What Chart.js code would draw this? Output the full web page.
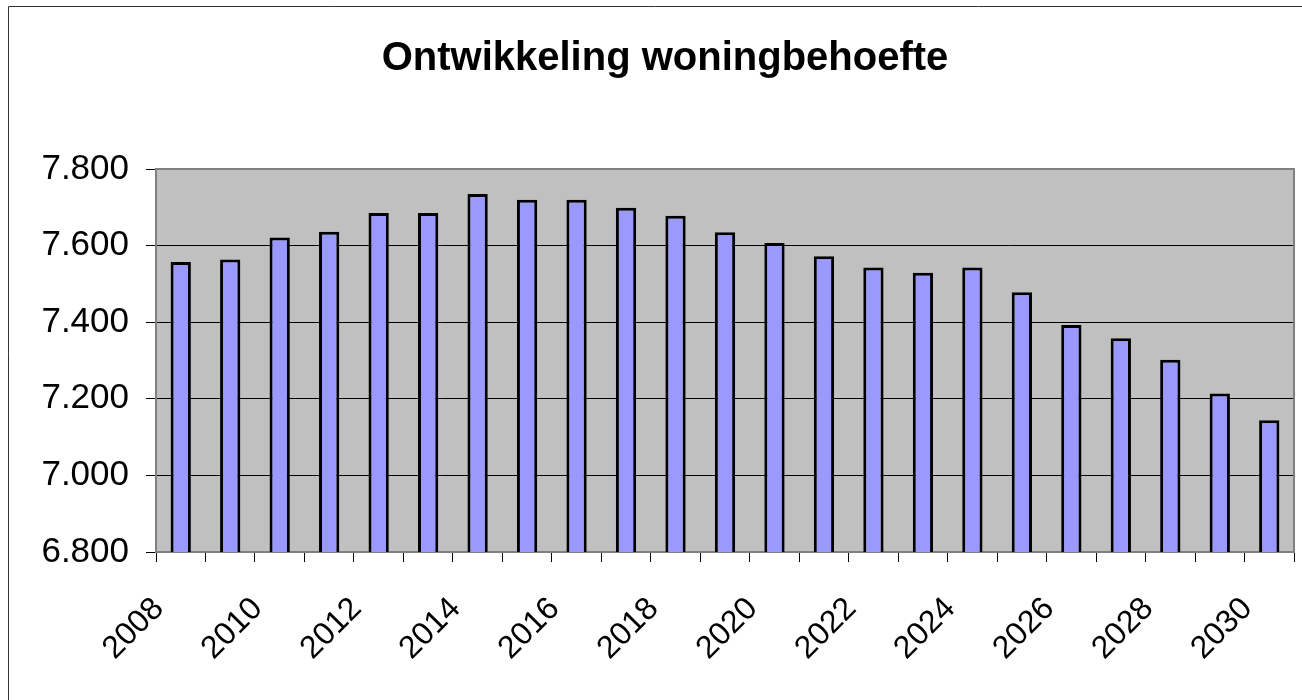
<!DOCTYPE html>
<html lang="nl">
<head>
<meta charset="utf-8">
<title>Ontwikkeling woningbehoefte</title>
<script src="https://cdn.jsdelivr.net/npm/chart.js@4.4.1/dist/chart.umd.min.js"></script>
<style>
    html, body { margin: 0; padding: 0; background: #ffffff; overflow: hidden; }
    #wrap { position: relative; width: 1302px; height: 700px; }
</style>
</head>
<body>
<div id="wrap"><canvas id="chart"></canvas></div>
<script>
// Jaren op de x-as
const years = ['2008', '2009', '2010', '2011', '2012', '2013', '2014', '2015', '2016', '2017', '2018', '2019',
               '2020', '2021', '2022', '2023', '2024', '2025', '2026', '2027', '2028', '2029', '2030'];

const woningbehoefte = [7557, 7564, 7621, 7636, 7685, 7685, 7735, 7720, 7720, 7699, 7678, 7635,
                        7607, 7572, 7543, 7529, 7543, 7478, 7393, 7358, 7302, 7214, 7144];

// As-instellingen
const yMin = 6800;
const yMax = 7800;
const yStep = 200;

const chartTitle = 'Ontwikkeling woningbehoefte';

// 7800 -> "7.800"
function formatNl(value) {
    return String(Math.round(value)).replace(/\B(?=(\d{3})+(?!\d))/g, '.');
}

// Grijze achtergrond en rand van het plotgebied, plus het kader om de grafiek
const plotArea = {
    id: 'plotArea',
    beforeDraw(chart) {
        const { ctx, chartArea } = chart;
        ctx.save();
        ctx.fillStyle = '#ffffff';
        ctx.fillRect(0, 0, chart.width, chart.height);
        ctx.fillStyle = '#c0c0c0';
        ctx.fillRect(chartArea.left, chartArea.top, chartArea.right - chartArea.left, chartArea.bottom - chartArea.top);
        // buitenkader
        ctx.strokeStyle = '#333333';
        ctx.lineWidth = 1;
        ctx.beginPath();
        ctx.moveTo(8.5, chart.height);
        ctx.lineTo(8.5, 6.5);
        ctx.lineTo(chart.width, 6.5);
        ctx.stroke();
        ctx.restore();
    },
    afterDraw(chart) {
        const { ctx, chartArea } = chart;
        ctx.save();
        ctx.strokeStyle = '#808080';
        ctx.lineWidth = 2;
        ctx.beginPath();
        ctx.moveTo(chartArea.left, chartArea.top);
        ctx.lineTo(chartArea.right, chartArea.top);
        ctx.lineTo(chartArea.right, chartArea.bottom);
        ctx.stroke();
        ctx.restore();
    }
};

document.addEventListener('DOMContentLoaded', function () {
    const ctx = document.getElementById('chart').getContext('2d');
    new Chart(ctx, {
        type: 'bar',
        data: {
            labels: years,
            datasets: [{
                label: 'Woningbehoefte',
                data: woningbehoefte,
                backgroundColor: '#9999ff',
                borderColor: '#000000',
                borderWidth: 3,
                borderSkipped: 'start',
                categoryPercentage: 1,
                barPercentage: 0.41
            }]
        },
        options: {
            responsive: true,
            maintainAspectRatio: false,
            animation: false,
            layout: { padding: { top: 7, left: 36, right: 8, bottom: 0 } },
            plugins: {
                legend: { display: false },
                tooltip: { enabled: false },
                title: {
                    display: true,
                    text: chartTitle,
                    color: '#000000',
                    font: { family: 'Liberation Sans, Arial, sans-serif', size: 40, weight: 'bold', lineHeight: 1.2 },
                    padding: { top: 28, bottom: 86 }
                }
            },
            scales: {
                x: {
                    offset: true,
                    grid: {
                        offset: true,
                        drawOnChartArea: false,
                        drawTicks: true,
                        tickLength: 10,
                        tickColor: '#000000',
                        tickWidth: 1
                    },
                    border: { color: '#808080', width: 2 },
                    ticks: {
                        autoSkip: false,
                        maxRotation: 45,
                        minRotation: 45,
                        padding: 28,
                        labelOffset: -22,
                        color: '#000000',
                        font: { family: 'Liberation Sans, Arial, sans-serif', size: 32 },
                        callback: function (value, index) {
                            return index % 2 === 0 ? years[index] : '';
                        }
                    },
                    afterFit: function (scale) {
                        scale.height = 148;
                        scale.paddingLeft = 0;
                        scale.paddingRight = 0;
                    }
                },
                y: {
                    min: yMin,
                    max: yMax,
                    grid: {
                        color: function (c) {
                            const v = c.tick ? c.tick.value : null;
                            return (v === yMin || v === yMax) ? 'rgba(0,0,0,0)' : '#000000';
                        },
                        lineWidth: 1,
                        drawTicks: true,
                        tickLength: 10,
                        tickColor: '#000000',
                        tickWidth: 1
                    },
                    border: { color: '#808080', width: 2 },
                    ticks: {
                        stepSize: yStep,
                        padding: 17,
                        color: '#000000',
                        font: { family: 'Liberation Sans, Arial, sans-serif', size: 35 },
                        callback: function (value) { return formatNl(value); }
                    },
                    afterFit: function (scale) { scale.width = 120; }
                }
            }
        },
        plugins: [plotArea]
    });
});
</script>
</body>
</html>
